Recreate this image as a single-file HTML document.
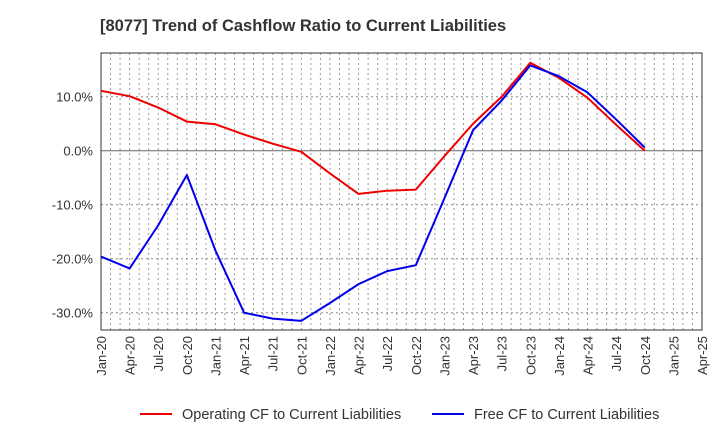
<!DOCTYPE html>
<html><head><meta charset="utf-8"><style>
body{margin:0;background:#fff;font-family:"Liberation Sans",sans-serif;}
</style></head><body>
<svg id="chart" width="720" height="440" xmlns="http://www.w3.org/2000/svg" font-family="Liberation Sans, sans-serif">
<text x="100" y="31" font-size="16.5" font-weight="bold" fill="#333">[8077]  Trend of Cashflow Ratio to Current Liabilities</text>
<g id="grid"></g><g id="axes"></g><g id="series"></g>
<g>
<line x1="140" y1="414" x2="172" y2="414" stroke="#e00" stroke-width="2"/>
<text x="182" y="419" font-size="14.5" fill="#333">Operating CF to Current Liabilities</text>
<line x1="432" y1="414" x2="464" y2="414" stroke="#00e" stroke-width="2"/>
<text x="474" y="419" font-size="14.5" fill="#333">Free CF to Current Liabilities</text>
</g>
</svg>
<script>
const xLabels=["Jan-20","Apr-20","Jul-20","Oct-20","Jan-21","Apr-21","Jul-21","Oct-21","Jan-22","Apr-22","Jul-22","Oct-22","Jan-23","Apr-23","Jul-23","Oct-23","Jan-24","Apr-24","Jul-24","Oct-24","Jan-25","Apr-25"];
const operatingCF=[11.1,10.1,8,5.4,4.9,3,1.3,-0.2,-4.2,-8,-7.4,-7.2,-1,5,10,16.3,13.5,9.8,4.8,0];
const freeCF=[-19.6,-21.8,-13.8,-4.5,-18.5,-30,-31.1,-31.5,-28.2,-24.7,-22.3,-21.2,-8.8,3.8,9.3,15.8,13.8,10.8,5.8,0.6];
const yTicks=[10,0,-10,-20,-30];
const L=101,R=702,T=53,B=330,yMax=18.1,yMin=-33.2;
const NS="http://www.w3.org/2000/svg";
const X=i=>L+i*(R-L)/21;
const Y=v=>T+(yMax-v)/(yMax-yMin)*(B-T);
function mk(tag,attrs,parent){const e=document.createElementNS(NS,tag);for(const k in attrs)e.setAttribute(k,attrs[k]);document.getElementById(parent).appendChild(e);return e;}
for(let m=1;m<63;m++){const x=L+m*(R-L)/63;const l=mk('line',{x1:x,x2:x,y1:T,y2:B,stroke:'#999','stroke-dasharray':'2,3','stroke-width':1},'grid');

}
yTicks.forEach(v=>{const l=mk('line',{x1:L,x2:R,y1:Y(v),y2:Y(v),stroke:v===0?'#666':'#888','stroke-dasharray':v===0?'':'2,3','stroke-width':1},'grid');


const t=mk('text',{x:L-8,y:Y(v)+5,'text-anchor':'end','font-size':13,fill:'#333'},'axes');t.textContent=v.toFixed(1)+'%';

});
const fr=mk('rect',{x:L,y:T,width:R-L,height:B-T,fill:'none',stroke:'#333','stroke-width':1},'axes');


xLabels.forEach((s,i)=>{const t=mk('text',{transform:`translate(${X(i)+5},${B+6}) rotate(-90)`,'text-anchor':'end','font-size':13,fill:'#333'},'axes');t.textContent=s;

});
function line(data,color,name){const p=mk('polyline',{points:data.map((v,i)=>X(i)+','+Y(v)).join(' '),fill:'none',stroke:color,'stroke-width':2,'stroke-linejoin':'round'},'series');

}
line(operatingCF,'#e00','operating-cf-line');
line(freeCF,'#00e','free-cf-line');
</script>
</body></html>
